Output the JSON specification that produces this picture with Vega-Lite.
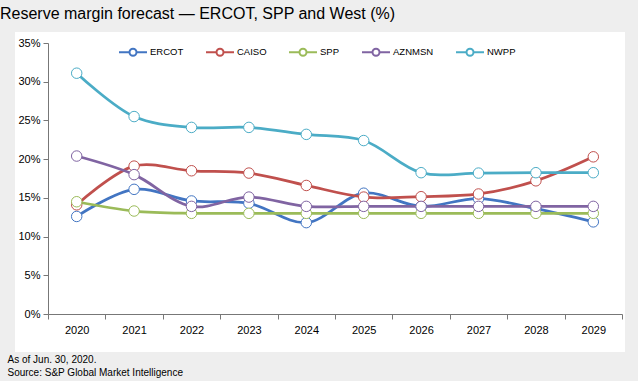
{
  "$schema": "https://vega.github.io/schema/vega-lite/v6.json",
  "width": 610,
  "height": 320,
  "autosize": {"type": "none"},
  "padding": {"left": 15, "top": 32, "right": 13, "bottom": 29},
  "background": "#eeeeee",
  "view": {"fill": "white", "stroke": null},
  "config": {"font": "Liberation Sans"},
  "title": {
    "text": "Reserve margin forecast — ERCOT, SPP and West (%)",
    "anchor": "start",
    "dx": -7,
    "offset": 10,
    "fontSize": 16,
    "fontWeight": "normal",
    "color": "#000000"
  },
  "data": {
    "values": [
      {"year": "2020", "series": "ERCOT", "value": 12.6},
      {"year": "2021", "series": "ERCOT", "value": 16.1},
      {"year": "2022", "series": "ERCOT", "value": 14.6},
      {"year": "2023", "series": "ERCOT", "value": 14.3},
      {"year": "2024", "series": "ERCOT", "value": 11.8},
      {"year": "2025", "series": "ERCOT", "value": 15.6},
      {"year": "2026", "series": "ERCOT", "value": 13.9},
      {"year": "2027", "series": "ERCOT", "value": 14.9},
      {"year": "2028", "series": "ERCOT", "value": 13.6},
      {"year": "2029", "series": "ERCOT", "value": 11.9},
      {"year": "2020", "series": "CAISO", "value": 14.1},
      {"year": "2021", "series": "CAISO", "value": 19.1},
      {"year": "2022", "series": "CAISO", "value": 18.5},
      {"year": "2023", "series": "CAISO", "value": 18.2},
      {"year": "2024", "series": "CAISO", "value": 16.6},
      {"year": "2025", "series": "CAISO", "value": 15.1},
      {"year": "2026", "series": "CAISO", "value": 15.15},
      {"year": "2027", "series": "CAISO", "value": 15.5},
      {"year": "2028", "series": "CAISO", "value": 17.2},
      {"year": "2029", "series": "CAISO", "value": 20.3},
      {"year": "2020", "series": "SPP", "value": 14.5},
      {"year": "2021", "series": "SPP", "value": 13.3},
      {"year": "2022", "series": "SPP", "value": 13.0},
      {"year": "2023", "series": "SPP", "value": 13.0},
      {"year": "2024", "series": "SPP", "value": 13.0},
      {"year": "2025", "series": "SPP", "value": 13.0},
      {"year": "2026", "series": "SPP", "value": 13.0},
      {"year": "2027", "series": "SPP", "value": 13.0},
      {"year": "2028", "series": "SPP", "value": 13.0},
      {"year": "2029", "series": "SPP", "value": 13.0},
      {"year": "2020", "series": "AZNMSN", "value": 20.4},
      {"year": "2021", "series": "AZNMSN", "value": 18.0},
      {"year": "2022", "series": "AZNMSN", "value": 13.9},
      {"year": "2023", "series": "AZNMSN", "value": 15.1},
      {"year": "2024", "series": "AZNMSN", "value": 13.9},
      {"year": "2025", "series": "AZNMSN", "value": 13.9},
      {"year": "2026", "series": "AZNMSN", "value": 13.9},
      {"year": "2027", "series": "AZNMSN", "value": 13.9},
      {"year": "2028", "series": "AZNMSN", "value": 13.9},
      {"year": "2029", "series": "AZNMSN", "value": 13.9},
      {"year": "2020", "series": "NWPP", "value": 31.1},
      {"year": "2021", "series": "NWPP", "value": 25.5},
      {"year": "2022", "series": "NWPP", "value": 24.1},
      {"year": "2023", "series": "NWPP", "value": 24.1},
      {"year": "2024", "series": "NWPP", "value": 23.2},
      {"year": "2025", "series": "NWPP", "value": 22.4},
      {"year": "2026", "series": "NWPP", "value": 18.25},
      {"year": "2027", "series": "NWPP", "value": 18.2},
      {"year": "2028", "series": "NWPP", "value": 18.25},
      {"year": "2029", "series": "NWPP", "value": 18.25}
    ]
  },
  "encoding": {
    "x": {
      "field": "year",
      "type": "ordinal",
      "bandPosition": 0.5,
      "scale": {"type": "band", "range": [33, 607], "paddingInner": 0, "paddingOuter": 0},
      "axis": {
        "title": ["As of Jun. 30, 2020.", "Source:  S&P Global Market Intelligence"],
        "titleAnchor": "start",
        "titleAlign": "left",
        "titleBaseline": "alphabetic",
        "titleX": -8,
        "titleY": 48,
        "titleFontSize": 10,
        "titleFontWeight": "normal",
        "titleLineHeight": 13,
        "titleColor": "#000000",
        "offset": -38,
        "tickBand": "extent",
        "labelAngle": 0,
        "labelFontSize": 11,
        "labelColor": "#000000",
        "labelPadding": 5,
        "tickSize": 5,
        "tickColor": "#777777",
        "domainColor": "#777777",
        "grid": false
      }
    },
    "y": {
      "field": "value",
      "type": "quantitative",
      "scale": {"domain": [0, 35], "range": [282, 11], "nice": false, "zero": true},
      "axis": {
        "title": null,
        "offset": -33,
        "values": [0, 5, 10, 15, 20, 25, 30, 35],
        "labelExpr": "datum.value + '%'",
        "labelFontSize": 11,
        "labelColor": "#000000",
        "labelPadding": 3,
        "tickSize": 5,
        "tickColor": "#777777",
        "domainColor": "#777777",
        "grid": false
      }
    },
    "color": {
      "field": "series",
      "type": "nominal",
      "scale": {
        "domain": ["ERCOT", "CAISO", "SPP", "AZNMSN", "NWPP"],
        "range": ["#4275c2", "#c0504d", "#9bbb59", "#8064a2", "#4bacc6"]
      },
      "legend": {
        "orient": "none",
        "direction": "horizontal",
        "columns": 5,
        "legendX": 103,
        "legendY": 5,
        "title": null,
        "symbolType": "M-1,0H-0.25A0.25,0.25 0 1,1 0.25,0A0.25,0.25 0 1,1 -0.25,0M0.25,0H1",
        "symbolSize": 784,
        "symbolStrokeWidth": 2,
        "symbolFillColor": "white",
        "labelFontSize": 9.5,
        "labelColor": "#000000",
        "labelOffset": 2,
        "columnPadding": 18
      }
    }
  },
  "layer": [
    {"mark": {"type": "line", "interpolate": "catmull-rom", "strokeWidth": 2.75}},
    {"mark": {"type": "point", "filled": false, "fill": "white", "fillOpacity": 1, "opacity": 1, "size": 110, "strokeWidth": 1}}
  ]
}
